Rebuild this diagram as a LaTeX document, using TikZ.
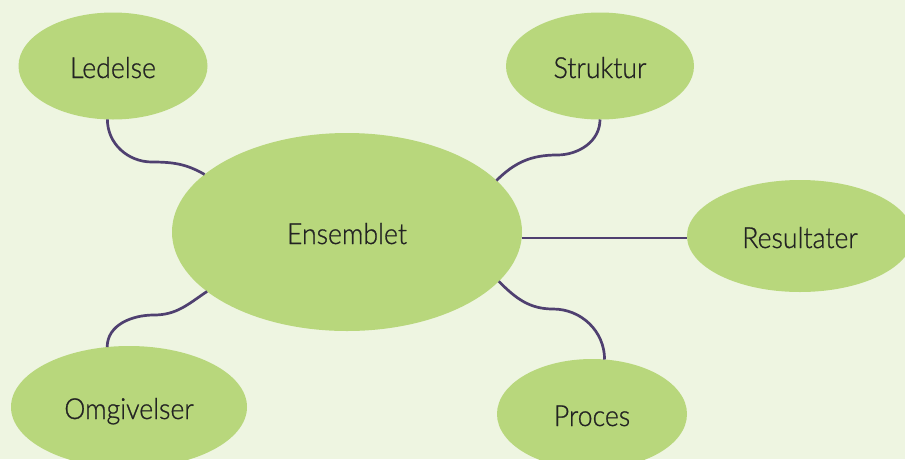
\documentclass[tikz,border=0pt]{standalone}
\usepackage{fontspec}
\setmainfont{Lato}[UprightFont = * Light, UprightFeatures = {FakeBold = 0.9}]
\usetikzlibrary{shapes.geometric}
\definecolor{bgpale}{HTML}{EEF5E1}
\definecolor{leaf}{HTML}{B8D77C}
\definecolor{plum}{HTML}{4F4070}
\definecolor{ink}{HTML}{232323}
\newcommand{\bubbletext}[1]{\scalebox{0.92}[1]{#1}}
\tikzset{
  bubble/.style={ellipse, fill=leaf, draw=none, inner sep=0pt, outer sep=0pt,
    text=ink, font=\fontsize{29}{34}\selectfont,
    text height=28pt, text depth=4pt},
  link/.style={draw=plum, line width=2.7pt},
}
\begin{document}
\begin{tikzpicture}[x=1pt, y=-1pt]
  \useasboundingbox (0,0) rectangle (905,459);
  \clip (0,0) rectangle (905,459);
  \fill[bgpale] (0,0) rectangle (905,459);

  % topic bubbles
  \node[bubble, minimum width=350pt, minimum height=198pt] (ens) at (347,232) {\bubbletext{Ensemblet}};
  \node[bubble, minimum width=189pt, minimum height=107pt] (led) at (113,66) {\bubbletext{Ledelse}};
  \node[bubble, minimum width=188pt, minimum height=107pt] (str) at (600,66) {\bubbletext{Struktur}};
  \node[bubble, minimum width=226pt, minimum height=112pt] (res) at (800,236) {\bubbletext{Resultater}};
  \node[bubble, minimum width=236pt, minimum height=122pt] (omg) at (129,407) {\bubbletext{Omgivelser}};
  \node[bubble, minimum width=190pt, minimum height=110pt] (pro) at (592,414) {\bubbletext{Proces}};

  % bends of the curved links
  \coordinate (kLed) at (152,162);
  \coordinate (kStr) at (557,155);
  \coordinate (kOmg) at (154,315);
  \coordinate (kPro) at (553,309);

  % links
  \draw[link] (led.-96) to[out=-90,in=180] (kLed) to[out=0,in=150] (ens.158.5);
  \draw[link] (str.south) to[out=-90,in=0] (kStr) to[out=180,in=45] (ens.19);
  \draw[link] (ens.-2.3) -- (res.west |- ens.-2.3);
  \draw[link] (omg.110) to[out=90,in=180] (kOmg) to[out=0,in=-146] (ens.203.7);
  \draw[link] (ens.-18.2) to[out=-45,in=180] (kPro) to[out=0,in=90] (pro.77);
\end{tikzpicture}
\end{document}
